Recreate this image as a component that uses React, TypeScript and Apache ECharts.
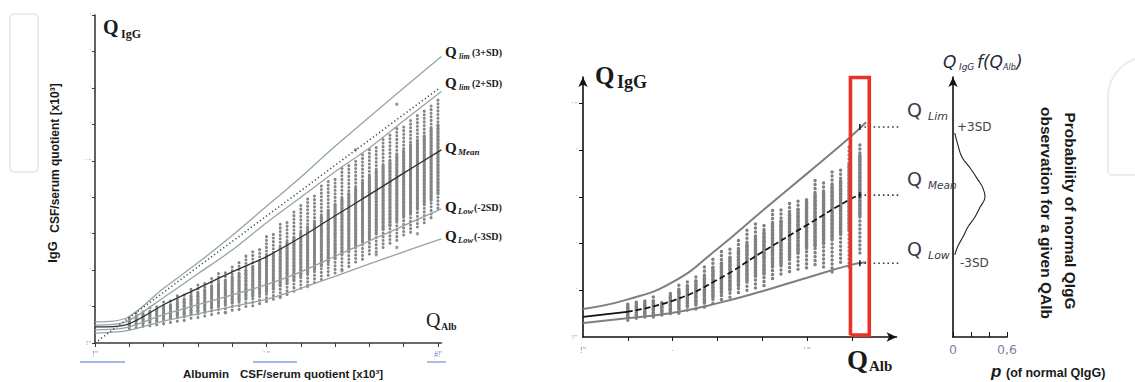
import React, { useEffect, useRef } from "react";
import * as echarts from "echarts";

// ---------- LEFT PANEL DATA ----------
const leftX = [0, 0.9, 2, 3, 4, 5, 6, 7, 8, 9, 10.1];
const leftPlus3SD = [0.58, 0.68, 1.5, 2.2, 2.95, 3.75, 4.55, 5.4, 6.2, 7.0, 7.86];
const leftPlus2SD = [0.49, 0.58, 1.25, 1.9, 2.55, 3.3, 4.0, 4.7, 5.35, 6.1, 6.9];
const leftMean = [0.44, 0.5, 1.05, 1.5, 1.95, 2.37, 2.9, 3.49, 4.07, 4.66, 5.3];
const leftMinus2SD = [0.36, 0.42, 0.78, 1.05, 1.32, 1.6, 1.95, 2.38, 2.8, 3.22, 3.68];
const leftMinus3SD = [0.27, 0.33, 0.6, 0.8, 1.0, 1.2, 1.5, 1.83, 2.17, 2.5, 2.86];
const leftDiagonal = [[0, 0], [10.05, 7.0]];

const leftColX = [1.0, 1.2, 1.4, 1.6, 1.8, 2.0, 2.2, 2.4, 2.6, 2.8, 3.0, 3.2, 3.4, 3.6, 3.8, 4.0, 4.2, 4.4, 4.6, 4.8, 5.0, 5.2, 5.4, 5.6, 5.8, 6.0, 6.2, 6.4, 6.6, 6.8, 7.0, 7.2, 7.4, 7.6, 7.8, 8.0, 8.2, 8.4, 8.6, 8.8, 9.0, 9.2, 9.4, 9.6, 9.8, 10.0];
const leftColOuterLo = [0.40, 0.42, 0.46, 0.47, 0.50, 0.53, 0.56, 0.60, 0.62, 0.68, 0.70, 0.74, 0.78, 0.82, 0.84, 0.90, 0.92, 1.00, 1.02, 1.08, 1.14, 1.20, 1.28, 1.33, 1.42, 1.50, 1.58, 1.66, 1.74, 1.86, 1.92, 2.02, 2.10, 2.22, 2.30, 2.44, 2.50, 2.62, 2.74, 2.82, 2.96, 3.04, 3.18, 3.30, 3.44, 3.70];
const leftColInnerLo = [0.46, 0.50, 0.53, 0.57, 0.60, 0.65, 0.68, 0.73, 0.76, 0.81, 0.86, 0.90, 0.96, 1.00, 1.06, 1.10, 1.16, 1.22, 1.28, 1.35, 1.40, 1.48, 1.57, 1.64, 1.72, 1.83, 1.92, 2.02, 2.12, 2.23, 2.32, 2.45, 2.56, 2.66, 2.78, 2.88, 3.00, 3.12, 3.22, 3.35, 3.46, 3.56, 3.68, 3.80, 3.92, 4.10];
const leftColInnerHi = [0.68, 0.74, 0.80, 0.86, 0.92, 1.00, 1.06, 1.14, 1.22, 1.30, 1.38, 1.46, 1.56, 1.64, 1.72, 1.82, 1.92, 2.02, 2.12, 2.24, 2.36, 2.48, 2.62, 2.76, 2.90, 3.04, 3.18, 3.34, 3.48, 3.64, 3.80, 3.96, 4.10, 4.26, 4.42, 4.58, 4.72, 4.86, 5.00, 5.16, 5.30, 5.44, 5.58, 5.72, 5.88, 6.02];
const leftColOuterHi = [0.78, 0.86, 0.90, 0.98, 1.05, 1.16, 1.20, 1.32, 1.40, 1.55, 1.60, 1.70, 1.86, 1.92, 2.02, 2.14, 2.30, 2.40, 2.56, 2.66, 2.92, 3.02, 3.30, 3.40, 3.62, 3.84, 4.00, 4.10, 4.32, 4.46, 4.56, 4.80, 4.88, 5.06, 5.20, 5.36, 5.44, 5.62, 5.72, 5.92, 6.00, 6.16, 6.28, 6.46, 6.60, 6.76];
const leftOutliers = [[3.8, 0.83], [5.4, 1.25], [6.2, 1.55], [7.2, 1.98], [8.2, 2.42], [8.8, 2.62], [9.4, 3.0], [8.8, 6.55], [7.6, 5.3]];

const leftXLabels: Record<string, string> = { "0": "!\"", "5": "' \"", "10": "#!'" };
const leftYLabels: Record<string, string> = { "0": "!\"", "5": "' ''" };

// ---------- RIGHT PANEL DATA ----------
const rightX = [0, 0.98, 2.01, 2.99, 4.0, 5.0, 5.96, 6.32];
const rightUpper = [0.6, 0.8, 1.18, 1.88, 2.7, 3.5, 4.28, 4.6];
const rightLower = [0.3, 0.4, 0.52, 0.72, 0.98, 1.27, 1.54, 1.6];
const rightMeanSolidX = [0, 0.98];
const rightMeanSolid = [0.43, 0.54];
const rightMeanDashX = [0.98, 2.01, 2.99, 4.0, 5.0, 5.96, 6.2];
const rightMeanDash = [0.54, 0.78, 1.22, 1.82, 2.4, 2.95, 3.05];

const rightColX = [1.0, 1.19, 1.38, 1.57, 1.76, 1.95, 2.14, 2.33, 2.52, 2.71, 2.9, 3.09, 3.28, 3.47, 3.66, 3.85, 4.04, 4.23, 4.42, 4.61, 4.8, 4.99, 5.18, 5.37, 5.56, 5.75, 5.94, 6.18];
const rightColOuterLo = [0.36, 0.40, 0.43, 0.43, 0.47, 0.50, 0.51, 0.58, 0.60, 0.64, 0.72, 0.80, 0.85, 0.95, 1.00, 1.05, 1.10, 1.25, 1.35, 1.40, 1.45, 1.48, 1.55, 1.50, 1.39, 1.60, 1.50, 1.80];
const rightColInnerLo = [0.42, 0.45, 0.47, 0.50, 0.52, 0.55, 0.60, 0.65, 0.70, 0.75, 0.85, 0.95, 1.00, 1.10, 1.20, 1.30, 1.35, 1.50, 1.55, 1.70, 1.80, 1.90, 1.95, 2.00, 2.10, 2.20, 2.30, 2.60];
const rightColInnerHi = [0.68, 0.72, 0.76, 0.78, 0.74, 0.90, 1.00, 1.10, 1.20, 1.30, 1.50, 1.60, 1.70, 1.85, 2.00, 2.15, 2.25, 2.45, 2.50, 2.65, 2.75, 2.90, 3.05, 3.10, 3.25, 3.35, 3.70, 3.90];
const rightColOuterHi = [0.75, 0.80, 0.84, 0.86, 0.80, 1.00, 1.15, 1.26, 1.32, 1.50, 1.71, 1.86, 1.95, 2.10, 2.33, 2.44, 2.46, 2.72, 2.78, 2.87, 2.95, 3.00, 3.43, 3.30, 3.58, 3.64, 4.15, 4.15];

const highlightBoxX = [5.97, 6.39];
const highlightBoxY = [0.04, 5.56];
const refLevels = [4.5, 3.04, 1.58]; // +3SD, mean, -3SD
const refStartX = 6.18;
const refEndX = 8.26;

const rightXLabels: Record<string, string> = { "0": "!\"", "2": "·", "5": "' \"" };
const rightYLabels: Record<string, string> = { "0": "!\"", "5": "' ''" };

// ---------- DENSITY PANEL DATA ----------
const densityY = [4.37, 4.11, 3.85, 3.62, 3.36, 3.19, 3.0, 2.78, 2.57, 2.36, 2.14, 1.95, 1.76];
const densityP = [0.02, 0.055, 0.1, 0.19, 0.28, 0.333, 0.356, 0.3, 0.244, 0.167, 0.11, 0.055, 0.02];
const densityTicks = [0, 0.2, 0.4, 0.6];
const densityLabels: Record<string, string> = { "0": "0", "0.6": "0,6" };

// ---------- STYLE ----------
const SERIF = "'Liberation Serif', 'Times New Roman', serif";
const SANS = "'Liberation Sans', Arial, sans-serif";
const GOTHIC = "'DejaVu Sans', sans-serif";
const BLUE = "#5f88d4";

const zip = (xs: number[], ys: number[]) => xs.map((x, i) => [x, ys[i]]);
const range = (a: number, b: number) => Array.from({ length: b - a + 1 }, (_, i) => a + i);

function columnSeries(idx: number, xs: number[], oLo: number[], iLo: number[], iHi: number[], oHi: number[], color: string, w: number) {
  return {
    type: "custom",
    xAxisIndex: idx,
    yAxisIndex: idx,
    z: 2,
    silent: true,
    data: xs.map((x, i) => [x, oLo[i], iLo[i], iHi[i], oHi[i]]),
    encode: { x: 0, y: [1, 2, 3, 4] },
    renderItem: (_p: any, api: any) => {
      const x = api.value(0);
      const a = api.coord([x, api.value(1)]);
      const b = api.coord([x, api.value(2)]);
      const c = api.coord([x, api.value(3)]);
      const d = api.coord([x, api.value(4)]);
      return {
        type: "group",
        children: [
          { type: "line", shape: { x1: a[0], y1: a[1], x2: d[0], y2: d[1] }, style: { stroke: color, lineWidth: w, lineDash: [0.1, w + 0.5], lineCap: "round" } },
          { type: "line", shape: { x1: b[0], y1: b[1], x2: c[0], y2: c[1] }, style: { stroke: color, lineWidth: w, lineDash: [1.6, 1.2], lineCap: "round" } },
        ],
      };
    },
  };
}

function lineS(idx: number, data: any[], color: string, width: number, opts: any = {}) {
  const { lineStyle: ls, ...rest } = opts;
  return {
    type: "line",
    xAxisIndex: idx,
    yAxisIndex: idx,
    data,
    symbol: "none",
    silent: true,
    z: 3,
    itemStyle: { color },
    lineStyle: { color, width, ...(ls || {}) },
    ...rest,
  };
}

function txt(x: number, y: number, text: string, o: any) {
  return {
    type: "text",
    x,
    y,
    rotation: o.rot || 0,
    silent: true,
    z: 10,
    style: {
      text,
      fontSize: o.size,
      fontFamily: o.family || SERIF,
      fontWeight: o.weight || "normal",
      fontStyle: o.italic ? "italic" : "normal",
      fill: o.color || "#1a1a1a",
      align: o.align || "left",
      verticalAlign: "middle",
    },
  };
}

function smallLabels(map: Record<string, string>) {
  return (v: number) => map[String(Math.round(v * 100) / 100)] ?? "'";
}

export default function App() {
  const ref = useRef<HTMLDivElement>(null);
  useEffect(() => {
    const chart = echarts.init(ref.current!, null, { renderer: "svg" });

    const axisLineL = { show: true, lineStyle: { color: "#3a3a3a", width: 1.6 } };
    const axisLineR = { show: true, lineStyle: { color: "#111", width: 1.6 } };

    const option: any = {
      animation: false,
      backgroundColor: "#ffffff",
      grid: [
        { left: 95, top: 15, width: 346.4, height: 328, outerBoundsMode: "none", containLabel: false },
        { left: 583, top: 77, width: 313.6, height: 260, outerBoundsMode: "none", containLabel: false },
        { left: 953, top: 77, width: 54, height: 260, outerBoundsMode: "none", containLabel: false },
      ],
      xAxis: [
        {
          gridIndex: 0, type: "value", min: 0, max: 10.1, interval: 1,
          axisLine: axisLineL,
          axisTick: { show: true, length: 4, customValues: range(0, 10), lineStyle: { color: "#3a3a3a" } },
          axisLabel: { show: true, customValues: [0, 5, 10], margin: 7, color: BLUE, fontSize: 8, fontFamily: SERIF, formatter: (v: number) => leftXLabels[String(v)] ?? "" },
          splitLine: { show: false },
        },
        {
          gridIndex: 1, type: "value", min: 0, max: 7, interval: 1,
          axisLine: { ...axisLineR, symbol: ["none", "arrow"], symbolSize: [7, 10] },
          axisTick: { show: true, length: 4, customValues: range(1, 6), lineStyle: { color: "#111" } },
          axisLabel: { show: true, customValues: [0, 2, 5], margin: 9, color: BLUE, fontSize: 8, fontFamily: SERIF, formatter: (v: number) => rightXLabels[String(v)] ?? "" },
          splitLine: { show: false },
        },
        {
          gridIndex: 2, type: "value", min: 0, max: 0.6, interval: 0.2,
          axisLine: axisLineR,
          axisTick: { show: true, inside: true, length: 5, customValues: densityTicks, lineStyle: { color: "#111" } },
          axisLabel: { show: true, customValues: [0, 0.6], margin: 6, color: "#7886a6", fontSize: 12.5, fontFamily: GOTHIC, formatter: (v: number) => densityLabels[String(Math.round(v * 10) / 10)] ?? "" },
          splitLine: { show: false },
        },
      ],
      yAxis: [
        {
          gridIndex: 0, type: "value", min: 0, max: 9, interval: 1,
          axisLine: axisLineL,
          axisTick: { show: true, length: 3, customValues: range(0, 9), lineStyle: { color: "#3a3a3a" } },
          axisLabel: { show: true, customValues: range(0, 9), margin: 4, color: BLUE, fontSize: 7, fontFamily: SERIF, formatter: smallLabels(leftYLabels) },
          splitLine: { show: false },
        },
        {
          gridIndex: 1, type: "value", min: 0, max: 5.57, interval: 1,
          axisLine: { ...axisLineR, symbol: ["none", "arrow"], symbolSize: [7, 10] },
          axisTick: { show: true, length: 4, customValues: range(1, 5), lineStyle: { color: "#111" } },
          axisLabel: { show: true, customValues: range(0, 5), margin: 6, color: BLUE, fontSize: 7, fontFamily: SERIF, formatter: smallLabels(rightYLabels) },
          splitLine: { show: false },
        },
        {
          gridIndex: 2, type: "value", min: 0, max: 5.57,
          axisLine: { ...axisLineR, symbol: ["none", "arrow"], symbolSize: [7, 10] },
          axisTick: { show: false },
          axisLabel: { show: false },
          splitLine: { show: false },
        },
      ],
      series: [
        // left panel
        columnSeries(0, leftColX, leftColOuterLo, leftColInnerLo, leftColInnerHi, leftColOuterHi, "#858585", 3),
        { type: "scatter", xAxisIndex: 0, yAxisIndex: 0, data: leftOutliers, symbolSize: 3.4, itemStyle: { color: "#858585" }, silent: true, z: 2 },
        lineS(0, zip(leftX, leftPlus3SD), "#93a5a8", 1.3, { smooth: 0.3 }),
        lineS(0, zip(leftX, leftPlus2SD), "#93a5a8", 1.3, { smooth: 0.3 }),
        lineS(0, zip(leftX, leftMinus2SD), "#93a5a8", 1.3, { smooth: 0.3 }),
        lineS(0, zip(leftX, leftMinus3SD), "#93a5a8", 1.3, { smooth: 0.3 }),
        lineS(0, zip(leftX, leftMean), "#2f2f2f", 1.3, { smooth: 0.3 }),
        lineS(0, leftDiagonal, "#4a4a4a", 1.6, { lineStyle: { type: [1.2, 2.6] } }),
        // right panel
        columnSeries(1, rightColX, rightColOuterLo, rightColInnerLo, rightColInnerHi, rightColOuterHi, "#808080", 3.4),
        lineS(1, zip(rightX, rightUpper), "#7f7f7f", 2, { smooth: 0.5 }),
        lineS(1, zip(rightX, rightLower), "#7f7f7f", 2, { smooth: 0.5 }),
        lineS(1, zip(rightMeanSolidX, rightMeanSolid), "#111", 1.7, { smooth: 0.3 }),
        lineS(1, zip(rightMeanDashX, rightMeanDash), "#111", 1.7, { smooth: 0.5, lineStyle: { type: [6, 3] } }),
        ...refLevels.map((lv) => ({
          type: "line", xAxisIndex: 1, yAxisIndex: 1, clip: false, silent: true, z: 4,
          data: [{ value: [refStartX, lv], symbol: "rect", symbolSize: [1.6, 6] }, { value: [refEndX, lv], symbol: "none" }],
          symbol: "none", showSymbol: true,
          itemStyle: { color: "#222" },
          lineStyle: { color: "#3a3a3a", width: 1.6, type: [1.6, 3] },
        })),
        {
          type: "line", xAxisIndex: 1, yAxisIndex: 1, silent: true, z: 5, symbol: "none", clip: false,
          data: [[highlightBoxX[0], highlightBoxY[0]], [highlightBoxX[1], highlightBoxY[0]], [highlightBoxX[1], highlightBoxY[1]], [highlightBoxX[0], highlightBoxY[1]], [highlightBoxX[0], highlightBoxY[0]]],
          itemStyle: { color: "#e8332b" },
          lineStyle: { color: "#e8332b", width: 3.6, join: "miter" },
        },
        // density
        {
          type: "line", xAxisIndex: 2, yAxisIndex: 2, silent: true, z: 3, symbol: "none", smooth: 0.4,
          data: zip(densityP, densityY),
          itemStyle: { color: "#222" },
          lineStyle: { color: "#222", width: 1.1 },
        },
      ],
      graphic: [
        // faint watermark shapes
        { type: "rect", silent: true, z: 0, shape: { x: 10, y: 14, width: 28, height: 158, r: 4 }, style: { fill: "none", stroke: "#ececec", lineWidth: 2 } },
        { type: "rect", silent: true, z: 0, shape: { x: 1108, y: 57, width: 80, height: 118, r: [40, 0, 0, 4] }, style: { fill: "none", stroke: "#ececec", lineWidth: 2 } },
        // left x label underline marks
        { type: "line", silent: true, shape: { x1: 80, y1: 362, x2: 125, y2: 362 }, style: { stroke: "#86a3d8", lineWidth: 1.4 } },
        { type: "line", silent: true, shape: { x1: 253, y1: 362, x2: 297, y2: 362 }, style: { stroke: "#86a3d8", lineWidth: 1.4 } },
        { type: "line", silent: true, shape: { x1: 427, y1: 362, x2: 446, y2: 362 }, style: { stroke: "#86a3d8", lineWidth: 1.4 } },
        // left panel titles
        txt(103, 27, "Q", { size: 20, weight: "bold" }),
        txt(121, 34, "IgG", { size: 12, weight: "bold" }),
        txt(426, 320, "Q", { size: 20 }),
        txt(441, 326, "Alb", { size: 10, weight: "bold" }),
        // left curve labels
        txt(445, 52, "Q", { size: 15, weight: "bold" }),
        txt(459, 56, "lim", { size: 8, weight: "bold", italic: true }),
        txt(472, 52, "(3+SD)", { size: 10, weight: "bold" }),
        txt(445, 83, "Q", { size: 15, weight: "bold" }),
        txt(459, 87, "lim", { size: 8, weight: "bold", italic: true }),
        txt(472, 83, "(2+SD)", { size: 10, weight: "bold" }),
        txt(445, 148, "Q", { size: 15, weight: "bold" }),
        txt(458, 152, "Mean", { size: 9, weight: "bold", italic: true }),
        txt(445, 207, "Q", { size: 15, weight: "bold" }),
        txt(458, 211, "Low", { size: 8.5, weight: "bold", italic: true }),
        txt(474, 207, "(-2SD)", { size: 10, weight: "bold" }),
        txt(445, 236, "Q", { size: 15, weight: "bold" }),
        txt(458, 240, "Low", { size: 8.5, weight: "bold", italic: true }),
        txt(474, 236, "(-3SD)", { size: 10, weight: "bold" }),
        // left axis titles
        txt(52, 252, "IgG", { size: 13, weight: "bold", family: SANS, align: "center", rot: Math.PI / 2 }),
        txt(55, 158, "CSF/serum quotient [x10³]", { size: 12, weight: "bold", family: SANS, align: "center", rot: Math.PI / 2 }),
        txt(183, 374, "Albumin", { size: 11.5, weight: "bold", family: SANS }),
        txt(240, 374, "CSF/serum quotient [x10³]", { size: 11.5, weight: "bold", family: SANS }),
        // right panel titles
        txt(595, 75, "Q", { size: 25, weight: "bold" }),
        txt(617, 82, "IgG", { size: 18, weight: "bold" }),
        txt(847, 360, "Q", { size: 27, weight: "bold" }),
        txt(869, 366, "Alb", { size: 15, weight: "bold" }),
        // right reference labels
        txt(907, 110, "Q", { size: 19, family: GOTHIC, color: "#3a3a4a" }),
        txt(928, 116, "Lim", { size: 11, family: GOTHIC, italic: true, color: "#3a3a4a" }),
        txt(907, 179, "Q", { size: 19, family: GOTHIC, color: "#3a3a4a" }),
        txt(928, 185, "Mean", { size: 10.5, family: GOTHIC, italic: true, color: "#3a3a4a" }),
        txt(907, 249, "Q", { size: 19, family: GOTHIC, color: "#3a3a4a" }),
        txt(928, 255, "Low", { size: 11, family: GOTHIC, italic: true, color: "#3a3a4a" }),
        txt(957, 127, "+3SD", { size: 12, family: GOTHIC, color: "#444" }),
        txt(960, 263, "-3SD", { size: 12, family: GOTHIC, color: "#444" }),
        // density title
        txt(943, 62, "Q", { size: 17, family: GOTHIC, italic: true, color: "#2a2a3a" }),
        txt(959, 67, "IgG", { size: 9, family: GOTHIC, italic: true, color: "#2a2a3a" }),
        txt(977, 62, "f(Q", { size: 17, family: GOTHIC, italic: true, color: "#2a2a3a" }),
        txt(1003, 67, "Alb", { size: 8, family: GOTHIC, italic: true, color: "#2a2a3a" }),
        txt(1016, 62, ")", { size: 17, family: GOTHIC, italic: true, color: "#2a2a3a" }),
        // density x title
        txt(991, 371, "p", { size: 17, family: SANS, weight: "bold", italic: true }),
        txt(1006, 373, "(of normal QIgG)", { size: 12.5, family: SANS, weight: "bold" }),
        // rotated description
        txt(1070, 211, "Probability of normal QIgG", { size: 15.5, family: SANS, weight: "bold", align: "center", rot: -Math.PI / 2 }),
        txt(1046, 213, "observation for a given QAlb", { size: 15.5, family: SANS, weight: "bold", align: "center", rot: -Math.PI / 2 }),
      ],
    };

    chart.setOption(option);
    return () => chart.dispose();
  }, []);
  return <div ref={ref} style={{ position: "fixed", left: 0, top: 0, width: 1135, height: 382 }} />;
}
